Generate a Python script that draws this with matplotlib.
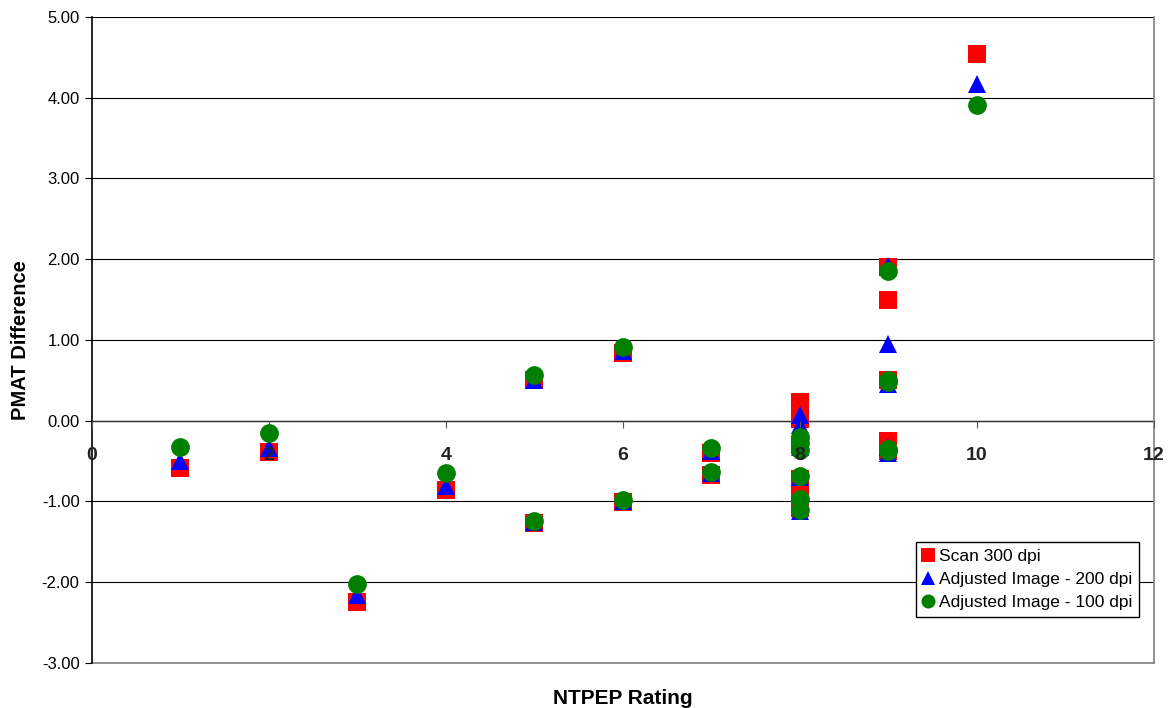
import matplotlib
matplotlib.use("Agg")
import matplotlib.pyplot as plt
from matplotlib.ticker import MultipleLocator, FormatStrFormatter

plt.rcParams['font.family'] = ['Liberation Sans', 'DejaVu Sans']

# NTPEP rating for each sample
rating = [1, 2, 3, 4, 5, 5, 6, 6, 7, 7, 8, 8, 8, 8, 8, 8, 9, 9, 9, 9, 9, 10]

scan_300 = [-0.58, -0.39, -2.25, -0.86, 0.50, -1.27, 0.84, -1.01, -0.40, -0.67,
            0.23, 0.02, -0.30, -0.72, -0.95, -1.08,
            1.90, 1.50, 0.50, -0.25, -0.38, 4.54]
adj_200 = [-0.50, -0.34, -2.16, -0.81, 0.50, -1.26, 0.86, -1.00, -0.38, -0.65,
           0.07, -0.05, -0.33, -0.70, -1.00, -1.12,
           1.92, 0.95, 0.45, -0.33, -0.40, 4.17]
adj_100 = [-0.33, -0.15, -2.02, -0.65, 0.57, -1.24, 0.91, -0.98, -0.34, -0.63,
           -0.20, -0.27, -0.36, -0.68, -0.97, -1.10,
           1.85, 0.50, 0.48, -0.35, -0.38, 3.91]

series_names = ["Scan 300 dpi", "Adjusted Image - 200 dpi", "Adjusted Image - 100 dpi"]

fig = plt.figure(figsize=(11.75, 7.08), dpi=100)
ax = fig.add_axes([0.0783, 0.0636, 0.9037, 0.9124])

ms = 13.5
ax.plot(rating, scan_300, linestyle='none', marker='s', markersize=ms,
        color='#FF0000', markeredgewidth=0, label=series_names[0], zorder=3)
ax.plot(rating, adj_200, linestyle='none', marker='^', markersize=ms,
        color='#0000FF', markeredgewidth=0, label=series_names[1], zorder=4)
ax.plot(rating, adj_100, linestyle='none', marker='o', markersize=ms,
        color='#008000', markeredgewidth=0, label=series_names[2], zorder=5)

ax.set_xlim(0, 12)
ax.set_ylim(-3, 5)
ax.xaxis.set_major_locator(MultipleLocator(2))
ax.yaxis.set_major_locator(MultipleLocator(1))
ax.yaxis.set_major_formatter(FormatStrFormatter('%.2f'))

ax.grid(axis='y', color='black', linewidth=0.8, zorder=0)
ax.set_axisbelow(True)
ax.xaxis.set_zorder(6)

ax.spines['bottom'].set_position(('data', 0))
ax.spines['bottom'].set_color('#333333')
ax.spines['bottom'].set_linewidth(1.0)
ax.spines['bottom'].set_zorder(1)
ax.spines['left'].set_color('black')
ax.spines['left'].set_linewidth(1.2)
ax.spines['top'].set_visible(False)
ax.spines['right'].set_color('#808080')
ax.spines['right'].set_linewidth(1.2)
ax.axhline(-3, color='#808080', linewidth=1.2, zorder=1, clip_on=False)

ax.tick_params(axis='x', direction='out', length=5, width=0.8, pad=14,
               labelsize=14, color='#555555')
ax.tick_params(axis='y', direction='out', length=5, width=0.8, pad=4,
               labelsize=12)
for lbl in ax.get_xticklabels():
    lbl.set_fontweight('bold')
    lbl.set_color('#222222')

ax.set_xlabel("NTPEP Rating", fontsize=15, fontweight='bold')
ax.xaxis.set_label_coords(0.5, -0.040)
ax.set_ylabel("PMAT Difference", fontsize=14.5, fontweight='bold')
ax.yaxis.set_label_coords(-0.0586, 0.5)

leg = ax.legend(loc='upper left', bbox_to_anchor=(0.776, 0.187), borderaxespad=0,
                fontsize=12.5, markerscale=0.75, handlelength=0.6, handletextpad=0.3,
                borderpad=0.4, labelspacing=0.45, fancybox=False, frameon=True,
                edgecolor='black', framealpha=1)
leg.get_frame().set_linewidth(1.0)
leg.set_zorder(7)

fig.savefig("out.png", dpi=100)
